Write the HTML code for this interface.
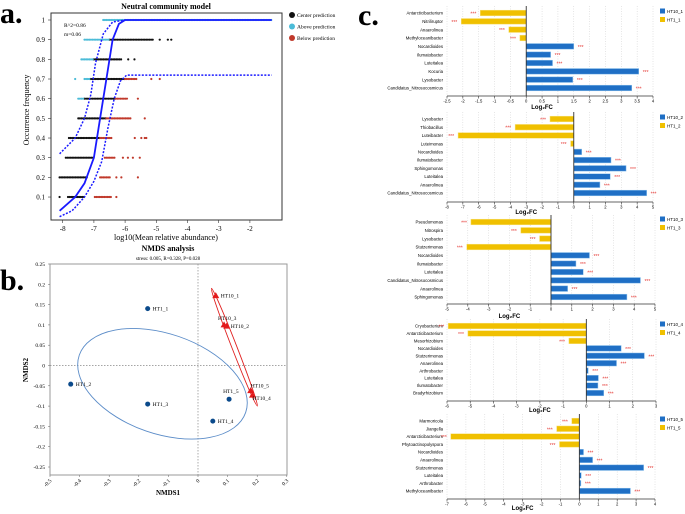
<!DOCTYPE html>
<html><head><meta charset="utf-8">
<style>
html,body{margin:0;padding:0;background:#fff;}
svg{display:block;}
.serif{font-family:"Liberation Serif",serif;}
.sans{font-family:"Liberation Sans",sans-serif;}
</style></head>
<body>
<svg id="fig" width="685" height="514" viewBox="0 0 685 514" xmlns="http://www.w3.org/2000/svg">
<text x="0" y="23" class="serif" font-size="30" font-weight="bold">a.</text>
<text x="0" y="290" class="serif" font-size="30" font-weight="bold">b.</text>
<text x="358" y="25" class="serif" font-size="30" font-weight="bold">c.</text>
<g id="pa"></g>
<g id="pb"></g>
<g id="pc"></g>
</svg>
<script>
// ---------- Panel a data ----------
const ncmLevels = [1.0,0.9,0.8,0.7,0.6,0.5,0.4,0.3,0.2,0.1];
const ncmCyan = [[-6.7,-1.27],[-7.3,-6.5],[-7.4,-7.0],[-7.3,-7.1],[-7.5,-7.3],null,null,null,null,null];
const ncmBlack = [null,[-6.5,-5.1],[-7.0,-6.1],[-7.1,-6.0],[-7.3,-6.3],[-7.5,-6.6],[-7.8,-6.8],[-7.9,-7.0],[-8.1,-7.2],[-7.83,-7.3]];
const ncmRed = [null,null,null,[-6.0,-5.6],[-6.3,-5.9],[-6.6,-5.8],[-6.8,-6.4],[-6.65,-6.3],[-6.8,-6.45],[-6.97,-6.45]];
const ncmExtraBlack = [[],[-4.89,-4.63,-4.52],[-5.9,-5.7],[],[],[],[],[],[],[-8.1]];
const ncmExtraCyan = [[],[],[],[-7.6],[],[],[],[],[],[]];
const ncmExtraRed = [[],[],[],[-5.16,-4.89],[-5.59],[-5.37],[-5.69,-5.48,-5.37,-5.32],[-6.07,-5.91,-5.75,-5.53],[-6.28,-6.12,-5.59],[-6.28]];
const fitX = [-8.1,-7.6,-7.3,-7.0,-6.8,-6.6,-6.4,-6.2,-6.0,-1.3];
const fitY = [0.03,0.1,0.17,0.3,0.5,0.7,0.9,0.98,1.0,1.0];
const upX = [-8.1,-7.6,-7.3,-7.1,-6.95,-6.7,-6.4,-6.0];
const upY = [0.32,0.4,0.5,0.62,0.78,0.93,0.99,1.0];
const loX = [-8.1,-7.7,-7.3,-7.0,-6.75,-6.55,-6.35,-6.15,-5.95,-1.3];
const loY = [0.0,0.03,0.1,0.18,0.28,0.45,0.6,0.69,0.72,0.72];
const aXTicks = [-8,-7,-6,-5,-4,-3,-2];
const aYTicks = [0.1,0.2,0.3,0.4,0.5,0.6,0.7,0.8,0.9,1];

// ---------- Panel b data ----------
const nmdsNames = ["HT1_1","HT1_2","HT1_3","HT1_4","HT1_5","HT10_1","HT10_3","HT10_2","HT10_5","HT10_4"];
const nmdsX = [-0.17,-0.43,-0.17,0.05,0.105,0.06,0.088,0.097,0.178,0.184];
const nmdsY = [0.14,-0.046,-0.095,-0.137,-0.083,0.172,0.1,0.097,-0.062,-0.073];
const bXTicks = [-0.5,-0.4,-0.3,-0.2,-0.1,0,0.1,0.2,0.3];
const bYTicks = [0.25,0.2,0.15,0.1,0.05,0,-0.05,-0.1,-0.15,-0.2,-0.25];

// ---------- Panel c data ----------
const c1Names = ["Antarcticibacterium","Nitriliruptor","Anaerolinea","Methyloceanibacter","Nocardioides","Ilumatobacter","Luteitalea","Kocuria","Lysobacter","Candidatus_Nitrosocosmicus"];
const c1Vals = [-1.45,-2.05,-0.55,-0.2,1.5,0.77,0.83,3.55,1.47,3.33];
const c1Ticks = [-2.5,-2,-1.5,-1,-0.5,0,0.5,1,1.5,2,2.5,3,3.5,4];
const c2Names = ["Lysobacter","Thiobacillus","Luteibacter","Luteimonas","Nocardioides","Ilumatobacter","Sphingomonas","Luteitalea","Anaerolinea","Candidatus_Nitrosocosmicus"];
const c2Vals = [-1.5,-3.7,-7.3,-0.2,0.5,2.35,3.3,2.3,1.65,4.6];
const c2Ticks = [-8,-7,-6,-5,-4,-3,-2,-1,0,1,2,3,4,5];
const c3Names = ["Pseudomonas","Nitrospira","Lysobacter","Stutzerimonas","Nocardioides","Ilumatobacter","Luteitalea","Candidatus_Nitrosocosmicus","Anaerolinea","Sphingomonas"];
const c3Vals = [-3.85,-1.45,-0.55,-4.05,1.85,1.2,1.55,4.3,0.8,3.65];
const c3Ticks = [-5,-4,-3,-2,-1,0,1,2,3,4,5];
const c4Names = ["Cryobacterium","Antarcticibacterium","Mesorhizobium","Nocardioides","Stutzerimonas","Anaerolinea","Arthrobacter","Luteitalea","Ilumatobacter","Bradyrhizobium"];
const c4Vals = [-5.95,-5.1,-0.75,1.5,2.5,1.3,0.08,0.52,0.5,0.75];
const c4Ticks = [-6,-5,-4,-3,-2,-1,0,1,2,3];
const c5Names = ["Marmoricola","Jiangella","Antarcticibacterium","Phytoactinopolyspora","Nocardioides","Anaerolinea","Stutzerimonas","Luteitalea","Arthrobacter","Methyloceanibacter"];
const c5Vals = [-0.4,-1.2,-6.8,-1.05,0.22,0.7,3.4,0.1,0.08,2.7];
const c5Ticks = [-7,-6,-5,-4,-3,-2,-1,0,1,2,3,4];
const cLegends = [["HT10_1","HT1_1"],["HT10_2","HT1_2"],["HT10_3","HT1_3"],["HT10_4","HT1_4"],["HT10_5","HT1_5"]];

const NS="http://www.w3.org/2000/svg";
function el(parent,tag,attrs,text){const e=document.createElementNS(NS,tag);for(const k in attrs)e.setAttribute(k,attrs[k]);if(text!==undefined)e.textContent=text;parent.appendChild(e);return e;}

// ===== Panel a =====
(function(){
const g=document.getElementById('pa');
const L=51,T=13,R=282,B=220;
const sx=v=>62.7+(v+8)*31.2;
const sy=v=>20+(1-v)*196.7;
let e;
e=el(g,'text',{x:166,y:9,'text-anchor':'middle','font-size':8,'font-weight':'bold',class:'serif'},'Neutral community model');

e=el(g,'rect',{x:L,y:T,width:R-L,height:B-T,fill:'none',stroke:'#333','stroke-width':1});

aYTicks.forEach(t=>{
 e=el(g,'text',{x:45,y:sy(t)+2.5,'text-anchor':'end','font-size':7,class:'serif'},String(t));
 
 el(g,'line',{x1:L-3,x2:L,y1:sy(t),y2:sy(t),stroke:'#333','stroke-width':0.6});
});
aXTicks.forEach(t=>{
 e=el(g,'text',{x:sx(t),y:231,'text-anchor':'middle','font-size':7,class:'serif'},String(t));
 
 el(g,'line',{x1:sx(t),x2:sx(t),y1:B,y2:B+3,stroke:'#333','stroke-width':0.6});
});
e=el(g,'text',{x:166,y:240,'text-anchor':'middle','font-size':8,class:'serif'},'log10(Mean relative abundance)');

e=el(g,'text',{x:29,y:110,'text-anchor':'middle','font-size':8,class:'serif',transform:'rotate(-90 29 110)'},'Occurrence frequency');

e=el(g,'text',{x:64,y:27,'font-size':5.5,class:'serif'},'R^2=0.86');

e=el(g,'text',{x:64,y:36,'font-size':5.5,class:'serif'},'m=0.06');

function range(r,y,col){if(!r)return;for(let x=sx(r[0]);x<=sx(r[1]);x+=1.6){const d=el(g,'circle',{cx:x,cy:y,r:1.1,fill:col});}}
function pts(a,y,col){a.forEach(v=>{const d=el(g,'circle',{cx:sx(v),cy:y,r:1.1,fill:col});});}
ncmLevels.forEach((lv,i)=>{const y=sy(lv);
 range(ncmBlack[i],y,'#111');range(ncmRed[i],y,'#c0392b');range(ncmCyan[i],y,'#4cbcd8');
 pts(ncmExtraBlack[i],y,'#111');pts(ncmExtraRed[i],y,'#c0392b');pts(ncmExtraCyan[i],y,'#4cbcd8');});
const path=(X,Y)=>X.map((x,i)=>(i?'L':'M')+sx(x).toFixed(1)+','+sy(Y[i]).toFixed(1)).join('');
e=el(g,'path',{d:path(fitX,fitY),fill:'none',stroke:'#1a1aff','stroke-width':1.8});

e=el(g,'path',{d:path(upX,upY),fill:'none',stroke:'#1a1aff','stroke-width':1.5,'stroke-dasharray':'2 1.5'});

e=el(g,'path',{d:path(loX,loY),fill:'none',stroke:'#1a1aff','stroke-width':1.5,'stroke-dasharray':'2 1.5'});

[['Center prediction','#111'],['Above prediction','#4cbcd8'],['Below prediction','#c0392b']].forEach((l,i)=>{
 const y=15+i*11.5;
 e=el(g,'circle',{cx:292,cy:y,r:3,fill:l[1]});
 e=el(g,'text',{x:297,y:y+2,'font-size':5.5,class:'serif'},l[0]);
});
})();

// ===== Panel b =====
(function(){
const g=document.getElementById('pb');
const L=50,T=264,R=287,B=475;
const sx=v=>198+v*296;
const sy=v=>365.5-v*406;
let e;
e=el(g,'text',{x:168,y:251,'text-anchor':'middle','font-size':8,'font-weight':'bold',class:'serif'},'NMDS analysis');

e=el(g,'text',{x:168,y:260,'text-anchor':'middle','font-size':5,class:'serif'},'stress: 0.005, R=0.328, P=0.028');

e=el(g,'rect',{x:L,y:T,width:R-L,height:B-T,fill:'none',stroke:'#999','stroke-width':1});

el(g,'line',{x1:sx(0),x2:sx(0),y1:T,y2:B,stroke:'#888','stroke-width':0.7,'stroke-dasharray':'1.5 1.5'});
el(g,'line',{x1:L,x2:R,y1:sy(0),y2:sy(0),stroke:'#888','stroke-width':0.7,'stroke-dasharray':'1.5 1.5'});
bYTicks.forEach(t=>{e=el(g,'text',{x:45,y:sy(t)+2,'text-anchor':'end','font-size':5.5,class:'serif'},String(t));
 el(g,'line',{x1:L-2,x2:L,y1:sy(t),y2:sy(t),stroke:'#666','stroke-width':0.5});});
bXTicks.forEach(t=>{const x=sx(t);e=el(g,'text',{x:x+2,y:481,'text-anchor':'end','font-size':5.5,class:'serif',transform:`rotate(-45 ${x+2} 481)`},String(t));
 el(g,'line',{x1:x,x2:x,y1:B,y2:B+2,stroke:'#666','stroke-width':0.5});});
e=el(g,'text',{x:168,y:495,'text-anchor':'middle','font-size':7,'font-weight':'bold',class:'serif'},'NMDS1');

e=el(g,'text',{x:28,y:370,'text-anchor':'middle','font-size':7,'font-weight':'bold',class:'serif',transform:'rotate(-90 28 370)'},'NMDS2');

e=el(g,'ellipse',{cx:sx(-0.12),cy:sy(-0.045),rx:88,ry:50,transform:`rotate(19 ${sx(-0.12)} ${sy(-0.045)})`,fill:'none',stroke:'#5b8cc8','stroke-width':0.9});

const cx=sx(0.123),cy=sy(0.045),ang=Math.atan2(sy(-0.1)-sy(0.19),sx(0.2)-sx(0.045))*180/Math.PI;
e=el(g,'ellipse',{cx:cx,cy:cy,rx:Math.hypot(sx(0.2)-sx(0.045),sy(-0.1)-sy(0.19))/2,ry:2.5,transform:`rotate(${ang} ${cx} ${cy})`,fill:'none',stroke:'#e02020','stroke-width':0.9});

nmdsNames.forEach((n,i)=>{const x=sx(nmdsX[i]),y=sy(nmdsY[i]);
 if(n.startsWith('HT10')){e=el(g,'polygon',{points:`${x},${y-3.5} ${x-3.5},${y+2.5} ${x+3.5},${y+2.5}`,fill:'#e31a1c'});}
 else {e=el(g,'circle',{cx:x,cy:y,r:2.5,fill:'#0b4a8b'});}
 
 let lx=x+5,ly=y+2;
 if(n==='HT10_3'){lx=x-6;ly=y-5;} if(n==='HT10_2'){ly=y+2;lx=x+4;} if(n==='HT1_5'){lx=x-6;ly=y-6;} if(n==='HT10_5'){ly=y-3;lx=x;} if(n==='HT10_4'){ly=y+5;lx=x;}
 e=el(g,'text',{x:lx,y:ly,'font-size':5.5,class:'serif'},n);
});
})();

// ===== Panel c =====
(function(){
const root=document.getElementById('pc');
const specs=[
 {names:c1Names,vals:c1Vals,ticks:c1Ticks,x0:447,x1:653,y0:13,y1:88,ax:96,lab:109,leg:11},
 {names:c2Names,vals:c2Vals,ticks:c2Ticks,x0:447,x1:653,y0:119,y1:193,ax:202,lab:214,leg:117},
 {names:c3Names,vals:c3Vals,ticks:c3Ticks,x0:447,x1:655,y0:222,y1:297,ax:304,lab:318,leg:219},
 {names:c4Names,vals:c4Vals,ticks:c4Ticks,x0:447,x1:656,y0:326,y1:393,ax:401,lab:412,leg:324},
 {names:c5Names,vals:c5Vals,ticks:c5Ticks,x0:447,x1:655,y0:421,y1:491,ax:499,lab:510,leg:419}];
specs.forEach((s,k)=>{
 const g=el(root,'g',{});
 
 
 const tmin=s.ticks[0],tmax=s.ticks[s.ticks.length-1];
 const sx=v=>s.x0+(v-tmin)/(tmax-tmin)*(s.x1-s.x0);
 const step=(s.y1-s.y0)/(s.names.length-1);
 const sy=i=>s.y0+i*step;
 const top=s.y0-7,bot=s.ax;
 let e;
 s.ticks.forEach(t=>{
  el(g,'line',{x1:sx(t),x2:sx(t),y1:top,y2:bot,stroke:'#ccc','stroke-width':0.5,'stroke-dasharray':'1 1.5'});
  el(g,'line',{x1:sx(t),x2:sx(t),y1:bot,y2:bot+2.5,stroke:'#333','stroke-width':0.6});
  e=el(g,'text',{x:sx(t),y:bot+6.5,'text-anchor':'middle','font-size':4.2,class:'sans'},String(t));
  
 });
 e=el(g,'line',{x1:s.x0,x2:s.x1,y1:bot,y2:bot,stroke:'#333','stroke-width':0.8});
 
 e=el(g,'text',{x:sx(0)-(k==0?0:(k==1?0:(k==2?20:0))),y:s.lab,'text-anchor':'middle','font-size':6,'font-weight':'bold',class:'sans'},'Log\u2082FC');
 if(k===0)e.setAttribute('x',sx(0.5));
 if(k===1)e.setAttribute('x',sx(-3));
 if(k===2)e.setAttribute('x',sx(-2));
 if(k===3)e.setAttribute('x',sx(-2));
 if(k===4)e.setAttribute('x',sx(-3));
 
 s.names.forEach((n,i)=>{
  const v=s.vals[i],y=sy(i),pos=v>=0;
  const x=Math.min(sx(0),sx(v)),w=Math.abs(sx(v)-sx(0));
  e=el(g,'rect',{x:x,y:y-2.8,width:w,height:5.6,fill:pos?'#1f6fc5':'#f0c000',stroke:pos?'#8fc3ee':'#f7e07a','stroke-width':0.5});
  
  e=el(g,'text',{x:443,y:y+1.6,'text-anchor':'end','font-size':4.3,class:'sans'},n);
  
  const sxp=pos?sx(v)+4:sx(v)-4;
  e=el(g,'text',{x:sxp,y:y+2.5,'text-anchor':pos?'start':'end','font-size':5,fill:'#e53935',class:'sans'},'***');
  
 });
 e=el(g,'line',{x1:sx(0),x2:sx(0),y1:top,y2:bot,stroke:'#333','stroke-width':0.9});
 
 cLegends[k].forEach((l,j)=>{
  const y=s.leg+j*8.5;
  e=el(g,'rect',{x:660,y:y-2.5,width:5,height:5,fill:j?'#f0c000':'#1f6fc5'});
  
  e=el(g,'text',{x:667,y:y+1.8,'font-size':4.5,class:'sans'},l);
  
 });
});
})();
</script>
</body></html>
